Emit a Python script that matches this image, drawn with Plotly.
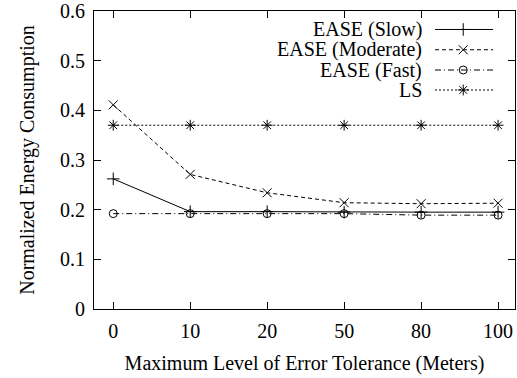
import plotly.graph_objects as go

categories = ["0", "10", "20", "50", "80", "100"]
slow = [0.262, 0.196, 0.196, 0.195, 0.195, 0.195]
moderate = [0.411, 0.271, 0.234, 0.214, 0.212, 0.213]
fast = [0.192, 0.192, 0.192, 0.192, 0.189, 0.189]
ls = [0.37, 0.37, 0.37, 0.37, 0.37, 0.37]
names = ["EASE (Slow)", "EASE (Moderate)", "EASE (Fast)", "LS"]
series = [slow, moderate, fast, ls]
dashes = ["solid", "4px,3px", "6px,3px,1px,3px", "2px,2px"]
symbols = ["cross-thin-open", "x-thin-open", "circle-open", "asterisk-open"]
sizes = [9, 9, 8, 9]
yticks = [0, 0.1, 0.2, 0.3, 0.4, 0.5, 0.6]

FONT = "Liberation Serif, Times New Roman, serif"
FS = 20
fig = go.Figure()
xi = list(range(len(categories)))
for name, vals, d, s, sz in zip(names, series, dashes, symbols, sizes):
    fig.add_trace(go.Scatter(
        x=xi, y=vals, mode="lines+markers", name=name, showlegend=False,
        line=dict(color="black", width=1, dash=d),
        marker=dict(symbol=s, size=sz, color="black", line=dict(color="black", width=1)),
    ))

# gnuplot-style legend: text right-aligned, sample to the right (overlay axis in [0,1])
leg_y = [0.938, 0.870, 0.802, 0.735]
for name, d, s, sz, yy in zip(names, dashes, symbols, sizes, leg_y):
    fig.add_trace(go.Scatter(
        x=[0.81, 0.948], y=[yy, yy], xaxis="x2", yaxis="y2", mode="lines",
        line=dict(color="black", width=1, dash=d), showlegend=False, hoverinfo="skip"))
    fig.add_trace(go.Scatter(
        x=[0.877], y=[yy], xaxis="x2", yaxis="y2", mode="markers",
        marker=dict(symbol=s, size=sz, color="black", line=dict(color="black", width=1)),
        showlegend=False, hoverinfo="skip"))
    fig.add_annotation(x=0.785, y=yy, xref="x2", yref="y2", text=name, showarrow=False,
                       xanchor="right", yanchor="middle", font=dict(family=FONT, size=FS, color="black"))

axis_common = dict(showline=True, linecolor="black", linewidth=1, mirror="ticks",
                   ticks="inside", ticklen=7, tickcolor="black", tickwidth=1,
                   showgrid=False, zeroline=False, automargin=False,
                   ticklabelstandoff=4,
                   tickfont=dict(family=FONT, size=FS, color="black"))
fig.update_layout(
    width=517, height=378,
    margin=dict(l=94, r=2, t=11, b=69, autoexpand=False),
    plot_bgcolor="white", paper_bgcolor="white",
    xaxis=dict(tickmode="array", tickvals=xi, ticktext=categories, range=[-0.25, 5.22],
               title=dict(text="Maximum Level of Error Tolerance (Meters)", font=dict(family=FONT, size=FS, color="black"), standoff=14),
               **axis_common),
    yaxis=dict(tickmode="array", tickvals=yticks, ticktext=[f"{v:g}" for v in yticks], range=[0, 0.6],
               title=dict(text="Normalized Energy Consumption", font=dict(family=FONT, size=FS, color="black"), standoff=20),
               **axis_common),
    xaxis2=dict(overlaying="x", range=[0, 1], visible=False, fixedrange=True),
    yaxis2=dict(overlaying="y", range=[0, 1], visible=False, fixedrange=True),
)
fig.write_html("out.html", config={"displayModeBar": False},
               post_script="document.body.style.margin='0';")
